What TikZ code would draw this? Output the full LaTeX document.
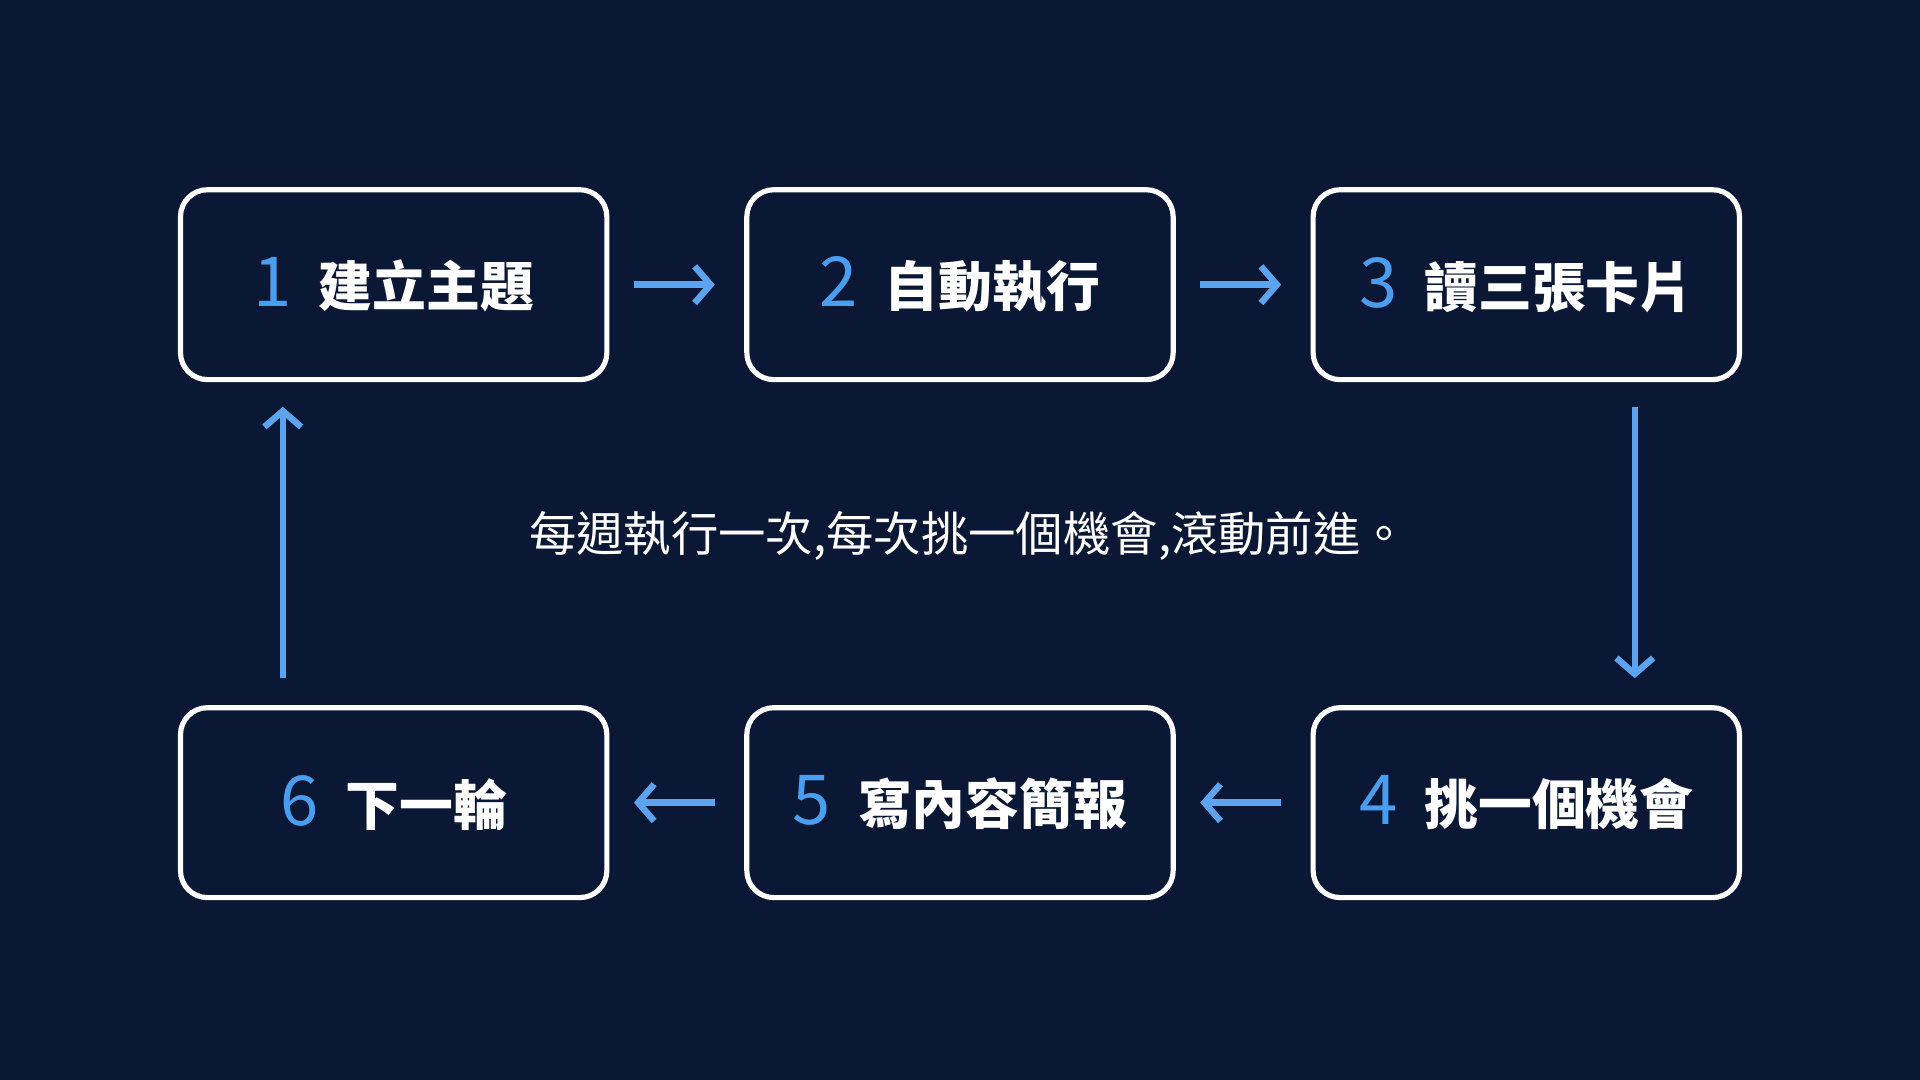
\documentclass[tikz,border=0pt]{standalone}
\usepackage{fontspec}
\newfontfamily\cjk{Noto Sans CJK TC}
\usetikzlibrary{arrows.meta}
\definecolor{bg}{HTML}{0B1835}
\definecolor{acc}{HTML}{5CA3F0}
\definecolor{num}{HTML}{4A9EF0}
\begin{document}
\begin{tikzpicture}[x=0.01cm,y=-0.01cm,
  box/.style={draw=white,line width=1.2pt,rounded corners=0.22cm,minimum width=3.48cm,minimum height=1.55cm,text=white,font=\cjk\bfseries\fontsize{12.5}{14}\selectfont},
  arr/.style={draw=acc,line width=1.5pt,-{Straight Barb[length=0.13cm,width=0.3cm,line width=1.5pt]}}]
\fill[bg] (0,0) rectangle (1568,882);
\useasboundingbox (0,0) rectangle (1568,882);
\newcommand{\nm}[1]{\textcolor{num}{\fontseries{m}\fontsize{16}{16}\selectfont #1}\hspace{0.22cm}}
\node[box] (b1) at (321.5,232.5) {\nm{1}建立主題};
\node[box] (b2) at (784,232.5) {\nm{2}自動執行};
\node[box] (b3) at (1246.5,232.5) {\nm{3}讀三張卡片};
\node[box] (b4) at (1246.5,655.5) {\nm{4}挑一個機會};
\node[box] (b5) at (784,655.5) {\nm{5}寫內容簡報};
\node[box] (b6) at (321.5,655.5) {\nm{6}下一輪};
\node[text=white,font=\cjk\fontsize{11}{13}\selectfont] (t) at (791,438) {每週執行一次,每次挑一個機會,滾動前進。};
\draw[arr] ([xshift=0.2cm]b1.east) -- ([xshift=-0.24cm]b2.west);
\draw[arr] ([xshift=0.2cm]b2.east) -- ([xshift=-0.24cm]b3.west);
\draw[arr] ([xshift=-0.24cm]b4.west) -- ([xshift=0.2cm]b5.east);
\draw[arr] ([xshift=-0.24cm]b5.west) -- ([xshift=0.2cm]b6.east);
\draw[arr] ([xshift=0.885cm,yshift=-0.2cm]b3.south) -- ([xshift=0.885cm,yshift=0.22cm]b4.north);
\draw[arr] ([xshift=-0.905cm,yshift=0.22cm]b6.north) -- ([xshift=-0.905cm,yshift=-0.2cm]b1.south);
\end{tikzpicture}
\end{document}
